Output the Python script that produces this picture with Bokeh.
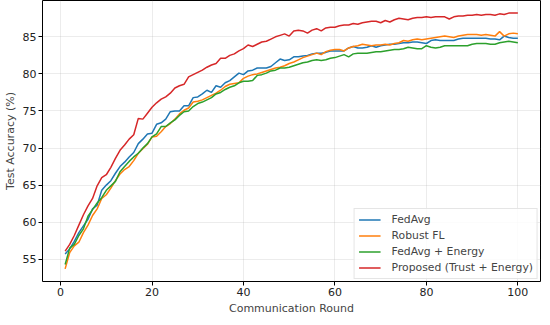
from bokeh.plotting import figure
from bokeh.models import Range1d, FixedTicker, Legend, LegendItem
from bokeh.embed import file_html
from bokeh.resources import INLINE

rounds = list(range(1, 101))

fedavg = [55.7, 56.4, 57.4, 58.6, 59.5, 60.4, 61.8, 62.3, 64.3, 65.0,
          65.6, 66.6, 67.5, 68.1, 68.8, 69.4, 70.6, 71.2, 71.9, 72.0,
          73.2, 73.4, 73.9, 74.9, 75.0, 75.0, 75.7, 75.7, 76.8, 76.9,
          77.3, 77.8, 77.5, 78.4, 78.2, 78.8, 79.1, 79.6, 80.1, 79.9,
          80.4, 80.5, 80.8, 80.8, 80.8, 81.0, 81.5, 82.0, 81.8, 81.9,
          82.3, 82.3, 82.4, 82.5, 82.7, 82.8, 82.8, 82.9, 83.1, 83.1,
          83.1, 83.1, 83.5, 83.7, 83.5, 83.5, 83.6, 83.8, 83.6, 83.8,
          83.9, 84.0, 84.0, 84.1, 84.2, 84.2, 84.3, 84.3, 84.2, 84.1,
          84.5, 84.6, 84.5, 84.5, 84.5, 84.5, 84.7, 84.8, 84.8, 84.8,
          84.8, 84.8, 84.8, 84.7, 84.7, 84.6, 85.1, 84.9, 84.8, 84.8]

robust = [53.7, 55.9, 56.8, 57.3, 58.6, 59.6, 60.9, 61.8, 63.2, 63.7,
          64.6, 65.6, 66.5, 67.1, 67.5, 68.3, 69.3, 69.9, 70.5, 71.5,
          71.6, 72.2, 72.9, 73.3, 73.9, 74.6, 75.1, 75.4, 76.2, 76.3,
          76.5, 76.8, 77.1, 77.4, 77.8, 78.3, 78.6, 78.7, 78.8, 79.4,
          79.7, 79.9, 80.0, 80.2, 80.4, 80.6, 80.8, 80.9, 81.1, 81.4,
          81.6, 81.9, 82.2, 82.4, 82.6, 82.8, 82.6, 83.0, 83.2, 83.3,
          83.3, 83.1, 83.5, 83.7, 83.8, 84.0, 83.9, 83.8, 83.9, 83.9,
          84.0, 83.9, 84.1, 84.2, 84.5, 84.4, 84.6, 84.7, 84.6, 84.7,
          84.8, 84.9, 85.0, 85.1, 85.0, 84.9, 85.1, 85.2, 85.3, 85.3,
          85.3, 85.2, 85.3, 85.2, 85.1, 85.7, 85.1, 85.4, 85.5, 85.4]

fedavg_energy = [54.3, 56.5, 57.0, 58.2, 59.1, 60.8, 61.7, 62.6, 63.3, 64.3,
                 64.9, 65.5, 66.8, 67.5, 68.2, 68.8, 69.3, 70.0, 70.6, 71.5,
                 71.9, 72.9, 72.9, 73.4, 73.8, 74.4, 74.9, 75.0, 75.6, 76.0,
                 76.2, 76.5, 76.8, 77.3, 77.5, 77.9, 78.2, 78.4, 78.8, 79.0,
                 79.0, 79.1, 79.8, 79.9, 80.1, 80.4, 80.5, 80.8, 80.8, 80.9,
                 81.1, 81.3, 81.5, 81.6, 81.8, 81.9, 81.8, 81.9, 82.1, 82.2,
                 82.4, 82.6, 82.3, 82.7, 82.8, 82.8, 82.8, 82.9, 83.0, 83.0,
                 83.1, 83.2, 83.3, 83.3, 83.4, 83.6, 83.5, 83.4, 83.4, 83.8,
                 83.6, 83.5, 83.6, 83.8, 83.8, 83.8, 83.8, 83.8, 83.8, 84.0,
                 84.1, 84.1, 84.1, 84.0, 84.0, 84.2, 84.3, 84.4, 84.3, 84.2]

proposed = [56.1, 57.0, 58.2, 59.6, 61.0, 62.2, 63.2, 64.9, 66.0, 66.4,
            67.4, 68.6, 69.7, 70.4, 71.2, 71.8, 74.0, 73.9, 74.7, 75.5,
            76.1, 76.6, 76.9, 77.4, 78.1, 78.4, 78.6, 79.6, 79.9, 80.2,
            80.5, 80.9, 81.2, 81.4, 82.1, 82.1, 82.5, 82.7, 83.1, 83.4,
            83.9, 83.7, 84.0, 84.3, 84.4, 84.7, 85.0, 85.2, 85.4, 85.1,
            85.8, 85.9, 85.8, 85.5, 85.9, 86.1, 85.8, 86.2, 86.3, 86.3,
            86.5, 86.6, 86.6, 86.8, 86.7, 86.9, 87.0, 87.1, 87.1, 86.9,
            87.2, 87.0, 87.3, 87.5, 87.4, 87.3, 87.5, 87.6, 87.6, 87.7,
            87.6, 87.7, 87.7, 87.7, 87.4, 87.7, 87.8, 87.8, 87.9, 87.9,
            88.0, 87.9, 88.0, 88.0, 87.9, 88.1, 88.0, 88.2, 88.2, 88.2]

series_names = ["FedAvg", "Robust FL", "FedAvg + Energy", "Proposed (Trust + Energy)"]
series_values = [fedavg, robust, fedavg_energy, proposed]
colors = ["#1f77b4", "#ff7f0e", "#2ca02c", "#d62728"]

x_ticks = [0, 20, 40, 60, 80, 100]
y_ticks = [55, 60, 65, 70, 75, 80, 85]

FONT = "DejaVu Sans"

p = figure(width=542, height=317, output_backend="svg", toolbar_location=None,
           x_range=Range1d(-3.95, 104.95), y_range=Range1d(52.0, 89.9),
           min_border_top=0, min_border_right=2, min_border_left=10, min_border_bottom=10)

renderers = []
for name, vals, c in zip(series_names, series_values, colors):
    r = p.line(rounds, vals, line_color=c, line_width=1.5)
    renderers.append((name, r))

legend = Legend(items=[LegendItem(label=n, renderers=[r]) for n, r in renderers],
                location="bottom_right")
legend.label_text_font = FONT
legend.label_text_font_size = "10.8px"
legend.label_height = 13
legend.glyph_height = 13
legend.glyph_width = 22
legend.spacing = 3
legend.padding = 4
legend.margin = 2
legend.label_standoff = 11
legend.border_line_color = "#cccccc"
legend.border_line_width = 1
legend.background_fill_alpha = 0.85
p.add_layout(legend)

p.outline_line_color = "black"
p.outline_line_width = 1

for ax in (p.xaxis[0], p.yaxis[0]):
    ax.axis_line_color = None
    ax.major_tick_in = 0
    ax.major_tick_out = 4
    ax.minor_tick_line_color = None
    ax.major_label_text_font = FONT
    ax.major_label_text_font_size = "11px"
    ax.major_label_text_color = "#222222"
    ax.axis_label_text_font = FONT
    ax.axis_label_text_font_size = "11px"
    ax.axis_label_text_font_style = "normal"
    ax.major_label_standoff = 2

p.xaxis[0].ticker = FixedTicker(ticks=x_ticks)
p.yaxis[0].ticker = FixedTicker(ticks=y_ticks)
p.xaxis[0].axis_label = "Communication Round"
p.yaxis[0].axis_label = "Test Accuracy (%)"
p.xaxis[0].axis_label_standoff = 3
p.yaxis[0].axis_label_standoff = 3

p.xgrid[0].ticker = FixedTicker(ticks=x_ticks)
p.ygrid[0].ticker = FixedTicker(ticks=y_ticks)
p.grid.grid_line_color = "#b0b0b0"
p.grid.grid_line_alpha = 0.3
p.grid.grid_line_width = 0.8

open("out.html", "w").write(file_html(p, INLINE))
